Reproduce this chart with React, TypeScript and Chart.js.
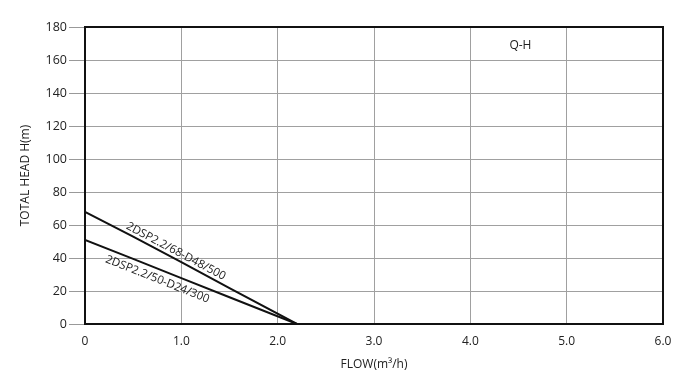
import React, { useEffect, useRef } from "react";
import { Chart, registerables } from "chart.js";

Chart.register(...registerables);

const FONT = "'Open Sans', 'Noto Sans', sans-serif";

const xTicks = [0, 1, 2, 3, 4, 5, 6];
const yTicks = [0, 20, 40, 60, 80, 100, 120, 140, 160, 180];

const seriesNames = ["2DSP2.2/68-D48/500", "2DSP2.2/50-D24/300"];
const flowA = [0, 0.5, 1.0, 1.5, 2.2];
const headA = [68, 53, 37.5, 21.8, 0];
const flowB = [0, 0.5, 1.0, 1.5, 2.2];
const headB = [51, 39.5, 27.8, 16.2, 0];
const labelAt = [0.91, 0.79];
const labelOffset = [-7, 10];
const curveTitle = "Q-H";

const labelPlugin = {
  id: "curveLabels",
  afterDraw(chart: any) {
    const { ctx, chartArea, scales } = chart;
    const xs = scales.x;
    const ys = scales.y;
    ctx.save();
    ctx.strokeStyle = "#111";
    ctx.lineWidth = 2;
    ctx.strokeRect(chartArea.left, chartArea.top, chartArea.right - chartArea.left, chartArea.bottom - chartArea.top);
    ctx.font = `11.5px ${FONT}`;
    ctx.fillStyle = "#222";
    ctx.textAlign = "center";
    ctx.textBaseline = "middle";
    chart.data.datasets.forEach((ds: any, i: number) => {
      const pts = ds.data;
      const xv = labelAt[i];
      let k = 0;
      while (k < pts.length - 2 && pts[k + 1].x < xv) k++;
      const p0 = pts[k], p1 = pts[k + 1];
      const t = (xv - p0.x) / (p1.x - p0.x);
      const yv = p0.y + t * (p1.y - p0.y);
      const first = pts[0], last = pts[pts.length - 1];
      const ang = Math.atan2(
        ys.getPixelForValue(last.y) - ys.getPixelForValue(first.y),
        xs.getPixelForValue(last.x) - xs.getPixelForValue(first.x)
      );
      const cx = xs.getPixelForValue(xv);
      const cy = ys.getPixelForValue(yv);
      const ox = -Math.sin(ang) * labelOffset[i];
      const oy = Math.cos(ang) * labelOffset[i];
      ctx.save();
      ctx.translate(cx + ox, cy + oy);
      ctx.rotate(ang);
      ctx.fillText(ds.label, 0, 0);
      ctx.restore();
    });
    ctx.font = `12px ${FONT}`;
    ctx.fillText(curveTitle, xs.getPixelForValue(4.52), ys.getPixelForValue(169));
    ctx.restore();
  },
};

export default function App() {
  const ref = useRef<HTMLCanvasElement | null>(null);
  useEffect(() => {
    document.body.style.margin = "0";
    const chart = new Chart(ref.current as HTMLCanvasElement, {
      type: "scatter",
      data: {
        datasets: [
          {
            label: seriesNames[0],
            data: flowA.map((x, i) => ({ x, y: headA[i] })),
            showLine: true,
            borderColor: "#111",
            borderWidth: 2,
            pointRadius: 0,
            tension: 0,
          },
          {
            label: seriesNames[1],
            data: flowB.map((x, i) => ({ x, y: headB[i] })),
            showLine: true,
            borderColor: "#111",
            borderWidth: 2,
            pointRadius: 0,
            tension: 0,
          },
        ],
      },
      options: {
        animation: false,
        responsive: false,
        maintainAspectRatio: false,
        layout: { padding: { top: 27, right: 37, left: 0, bottom: 0 } },
        plugins: { legend: { display: false }, tooltip: { enabled: false } },
        scales: {
          x: {
            type: "linear",
            min: 0,
            max: 6,
            afterBuildTicks: (s: any) => {
              s.ticks = xTicks.map((v) => ({ value: v }));
            },
            afterFit: (s: any) => {
              s.height = 62;
            },
            ticks: {
              color: "#222",
              font: { family: FONT, size: 12 },
              padding: 10,
              maxRotation: 0,
              callback: (v: any) => (Number(v) === 0 ? "0" : Number(v).toFixed(1)),
            },
            grid: { color: "#a0a0a0", lineWidth: 1, drawTicks: false },
            border: { display: true, color: "#111", width: 2 },
            title: {
              display: true,
              text: "FLOW(m³/h)",
              color: "#222",
              font: { family: FONT, size: 12 },
              padding: { top: 0, bottom: 14 },
            },
          },
          y: {
            type: "linear",
            min: 0,
            max: 180,
            afterBuildTicks: (s: any) => {
              s.ticks = yTicks.map((v) => ({ value: v }));
            },
            afterFit: (s: any) => {
              s.width = 85;
            },
            ticks: {
              color: "#222",
              font: { family: FONT, size: 12.5 },
              padding: 2,
            },
            grid: { color: "#a0a0a0", lineWidth: 1, tickLength: 16, tickColor: "#999" },
            border: { display: true, color: "#111", width: 2 },
            title: {
              display: true,
              text: "TOTAL HEAD H(m)",
              color: "#222",
              font: { family: FONT, size: 12 },
              padding: { top: 18, bottom: 0 },
            },
          },
        },
      },
      plugins: [labelPlugin],
    } as any);
    return () => chart.destroy();
  }, []);
  return (
    <div style={{ position: "absolute", left: 0, top: 0, width: 700, height: 386, background: "#fff" }}>
      <canvas ref={ref} width={700} height={386} style={{ width: 700, height: 386 }} />
    </div>
  );
}
